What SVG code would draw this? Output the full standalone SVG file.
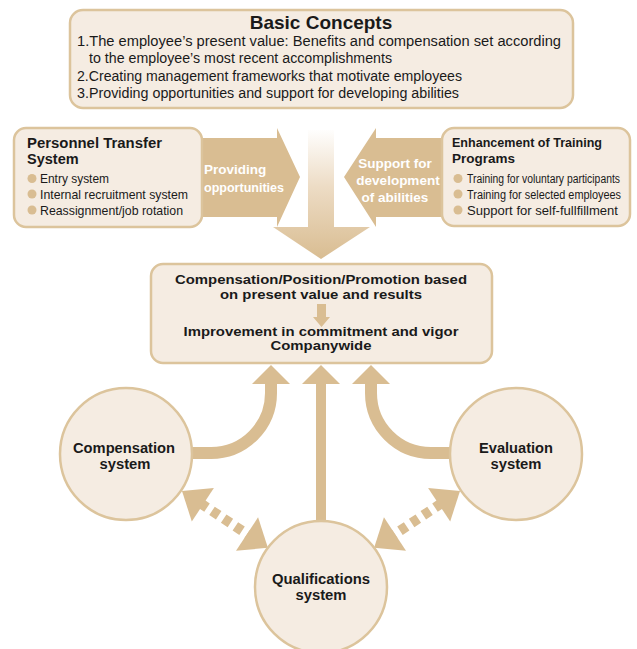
<svg xmlns="http://www.w3.org/2000/svg" width="637" height="649" viewBox="0 0 637 649">
<defs>
<linearGradient id="gdown" gradientUnits="userSpaceOnUse" x1="0" y1="128" x2="0" y2="258">
<stop offset="0" stop-color="#ffffff"/>
<stop offset="0.45" stop-color="#eddcc5"/>
<stop offset="1" stop-color="#d9bd92"/>
</linearGradient>
<style>
.box{fill:#f5ece2;stroke:#dcc49c;stroke-width:2.5}
.arr{fill:#d9bd92}
.band{fill:none;stroke:#d9bd92;stroke-width:12}
.dash{fill:none;stroke:#d9bd92;stroke-width:10;stroke-dasharray:8 6}
.bul{fill:#d9bd92}
text{font-family:"Liberation Sans",Arial,sans-serif;fill:#1a1a1a}
.t{font-size:14px}
.m{font-size:13px;font-weight:bold}
.b{font-weight:bold}
.w{fill:#ffffff;font-weight:bold;font-size:13.5px}
.s{font-size:13px}
</style>
</defs>
<rect width="637" height="649" fill="#ffffff"/>

<g id="connectors">
<polygon class="arr" points="196,138 277,138 277,128 300,177 277,227 277,217 196,217"/>
<polygon class="arr" points="448,138 376,138 376,128 344,177 376,227 376,217 448,217"/>
<path fill="url(#gdown)" d="M308,130 H334 V227 H370 L321,259 L273,227 H308 Z"/>
<path class="band" d="M190,453 H211 A60,60 0 0 0 271,393 V382"/>
<polygon class="arr" points="271,365 252,384 290,384"/>
<rect class="arr" x="316" y="382" width="10" height="140"/>
<polygon class="arr" points="321,365 302,384 340,384"/>
<path class="band" d="M452,453 H431 A60,60 0 0 1 371,393 V382"/>
<polygon class="arr" points="371,365 352,384 390,384"/>
<g transform="translate(182,491) rotate(33.5)">
<polygon class="arr" points="0,0 25,-20 25,20"/>
<polygon class="arr" points="103,0 78,-20 78,20"/>
<line class="dash" x1="24" y1="0" x2="79" y2="0" stroke-dashoffset="2"/>
</g>
<g transform="translate(460,491) rotate(146.5)">
<polygon class="arr" points="0,0 25,-20 25,20"/>
<polygon class="arr" points="103,0 78,-20 78,20"/>
<line class="dash" x1="24" y1="0" x2="79" y2="0" stroke-dashoffset="2"/>
</g>
<text class="w" x="204" y="174">Providing</text>
<text class="w" x="204" y="192" textLength="80" lengthAdjust="spacingAndGlyphs">opportunities</text>
<text class="w" x="395" y="168" text-anchor="middle">Support for</text>
<text class="w" x="398" y="185" text-anchor="middle">development</text>
<text class="w" x="395" y="202" text-anchor="middle">of abilities</text>
</g>

<g id="basic-concepts">
<rect class="box" x="70" y="10" width="503" height="98" rx="13"/>
<text x="321" y="29" text-anchor="middle" class="b" font-size="19">Basic Concepts</text>
<text class="t" x="77" y="46" textLength="484" lengthAdjust="spacingAndGlyphs">1.The employee’s present value: Benefits and compensation set according</text>
<text class="t" x="89" y="63" textLength="303" lengthAdjust="spacingAndGlyphs">to the employee’s most recent accomplishments</text>
<text class="t" x="77" y="81" textLength="385" lengthAdjust="spacingAndGlyphs">2.Creating management frameworks that motivate employees</text>
<text class="t" x="77" y="98" textLength="382" lengthAdjust="spacingAndGlyphs">3.Providing opportunities and support for developing abilities</text>
</g>

<g id="personnel-transfer">
<rect class="box" x="14" y="128" width="188" height="99" rx="12"/>
<text class="b" font-size="14.5" x="27" y="148" textLength="135" lengthAdjust="spacingAndGlyphs">Personnel Transfer</text>
<text class="b" font-size="14.5" x="27" y="164">System</text>
<circle class="bul" cx="32" cy="178.5" r="4.5"/>
<circle class="bul" cx="32" cy="194" r="4.5"/>
<circle class="bul" cx="32" cy="210" r="4.5"/>
<text class="s" x="40" y="183" textLength="69" lengthAdjust="spacingAndGlyphs">Entry system</text>
<text class="s" x="40" y="198.5" textLength="148" lengthAdjust="spacingAndGlyphs">Internal recruitment system</text>
<text class="s" x="40" y="214.5" textLength="143" lengthAdjust="spacingAndGlyphs">Reassignment/job rotation</text>
</g>

<g id="training-programs">
<rect class="box" x="442" y="128" width="188" height="98" rx="12"/>
<text class="b" font-size="13.5" x="452" y="147" textLength="150" lengthAdjust="spacingAndGlyphs">Enhancement of Training</text>
<text class="b" font-size="13.5" x="452" y="163">Programs</text>
<circle class="bul" cx="458" cy="178.5" r="4.5"/>
<circle class="bul" cx="458" cy="194" r="4.5"/>
<circle class="bul" cx="458" cy="210" r="4.5"/>
<text font-size="12" x="467" y="183" textLength="153" lengthAdjust="spacingAndGlyphs">Training for voluntary participants</text>
<text font-size="12" x="467" y="198.5" textLength="154" lengthAdjust="spacingAndGlyphs">Training for selected employees</text>
<text class="s" x="467" y="214.5" textLength="151" lengthAdjust="spacingAndGlyphs">Support for self-fullfillment</text>
</g>

<g id="result">
<rect class="box" x="151" y="264" width="341" height="99" rx="12"/>
<text class="m" x="321" y="284" text-anchor="middle" textLength="292" lengthAdjust="spacingAndGlyphs">Compensation/Position/Promotion based</text>
<text class="m" x="321" y="298.5" text-anchor="middle" textLength="202" lengthAdjust="spacingAndGlyphs">on present value and results</text>
<polygon class="arr" points="317,304 326,304 326,317 330,317 321.5,327 313,317 317,317"/>
<text class="m" x="321" y="335.5" text-anchor="middle" textLength="275" lengthAdjust="spacingAndGlyphs">Improvement in commitment and vigor</text>
<text class="m" x="321" y="349.5" text-anchor="middle" textLength="101" lengthAdjust="spacingAndGlyphs">Companywide</text>
</g>

<g id="compensation-system">
<circle class="box" cx="126" cy="454" r="66"/>
<text class="t b" x="124" y="453" text-anchor="middle" textLength="102" lengthAdjust="spacingAndGlyphs">Compensation</text>
<text class="t b" x="125" y="469" text-anchor="middle" textLength="51" lengthAdjust="spacingAndGlyphs">system</text>
</g>

<g id="evaluation-system">
<circle class="box" cx="516" cy="454" r="66"/>
<text class="t b" x="516" y="453" text-anchor="middle" textLength="74" lengthAdjust="spacingAndGlyphs">Evaluation</text>
<text class="t b" x="516" y="469" text-anchor="middle" textLength="51" lengthAdjust="spacingAndGlyphs">system</text>
</g>

<g id="qualifications-system">
<circle class="box" cx="321" cy="587" r="66"/>
<text class="t b" x="321" y="584" text-anchor="middle" textLength="98" lengthAdjust="spacingAndGlyphs">Qualifications</text>
<text class="t b" x="321" y="600" text-anchor="middle" textLength="51" lengthAdjust="spacingAndGlyphs">system</text>
</g>
</svg>
